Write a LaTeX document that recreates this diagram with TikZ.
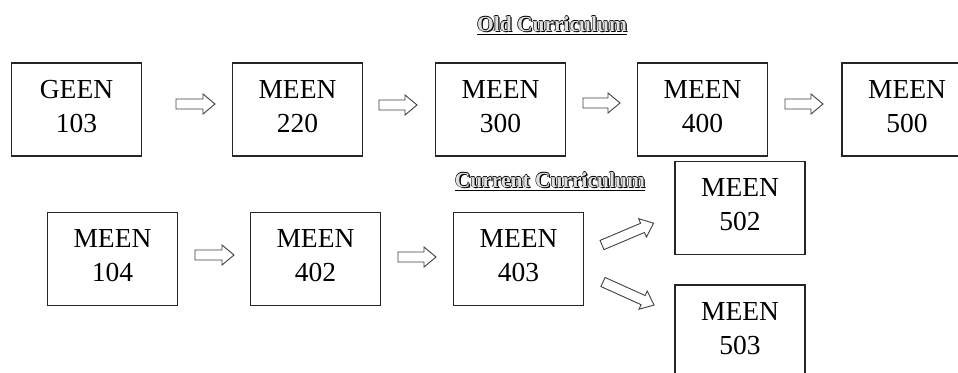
\documentclass[tikz,border=0pt]{standalone}
\usepackage{fontspec}
\setmainfont{Liberation Serif}
\usetikzlibrary{calc}
\begin{document}
\begin{tikzpicture}[x=1pt,y=-1pt,
  box/.style={draw=black!85, line width=1.3pt, minimum width=130pt, minimum height=93pt,
    inner sep=0pt, align=center, font=\fontsize{27.5}{34}\selectfont, text depth=7pt},
  title/.style={inner sep=0pt, anchor=base, font=\fontsize{21.5}{24}\selectfont\bfseries},
  barr/.pic={\draw[draw=black!75, line width=0.9pt, fill=white, line join=miter]
    (0,-5) -- (#1-12,-5) -- (#1-12,-10) -- (#1,0) -- (#1-12,10) -- (#1-12,5) -- (0,5) -- cycle;}]
\useasboundingbox (0,0) rectangle (958,372);
\clip (0,0) rectangle (958,372);
% Old curriculum
\node[box] (g103) at (76.5,109.5) {GEEN\\103};
\node[box] (m220) at (297.5,109.5) {MEEN\\220};
\node[box] (m300) at (500.5,109.5) {MEEN\\300};
\node[box] (m400) at (702.5,109.5) {MEEN\\400};
\node[box] (m500) at (907,109.5) {MEEN\\500};
% Current curriculum
\node[box] (m104) at (112.5,259) {MEEN\\104};
\node[box] (m402) at (315.5,259) {MEEN\\402};
\node[box] (m403) at (518.5,259) {MEEN\\403};
\node[box] (m502) at (740,208) {MEEN\\502};
\node[box] (m503) at (740,331.5) {MEEN\\503};
% arrow anchors
\coordinate (a1) at (176,104);
\coordinate (a2) at (379,105);
\coordinate (a3) at (583,103);
\coordinate (a4) at (785,104);
\coordinate (b1) at (195,255);
\coordinate (b2) at (398,257);
\coordinate (c1) at (602,245);
\coordinate (c2) at (603,282);
\pic at (a1) {barr=39};
\pic at (a2) {barr=38};
\pic at (a3) {barr=37};
\pic at (a4) {barr=38};
\pic at (b1) {barr=39};
\pic at (b2) {barr=38};
\pic[rotate=22.9] at (c1) {barr=56};
\pic[rotate=-24.3] at (c2) {barr=56};
% titles
\foreach \dx/\dy/\k in {1.3/1.3/s, -0.6/0/l, 0.6/0/r, 0/-0.6/u, 0/0.6/d}{
  \node[title, text=black] (ot\k) at (552+\dx,31+\dy) {Old Curriculum};
  \node[title, text=black] (ct\k) at (550+\dx,187+\dy) {Current Curriculum};
}
\node[title, text=black!12] (ot) at (552,31) {Old Curriculum};
\node[title, text=black!12] (ct) at (550,187) {Current Curriculum};
\draw[line width=1.6pt] ([yshift=-3.5pt]ot.base west) -- ([yshift=-3.5pt]ot.base east);
\draw[line width=1.6pt] ([yshift=-3.5pt]ct.base west) -- ([yshift=-3.5pt]ct.base east);
\end{tikzpicture}
\end{document}
